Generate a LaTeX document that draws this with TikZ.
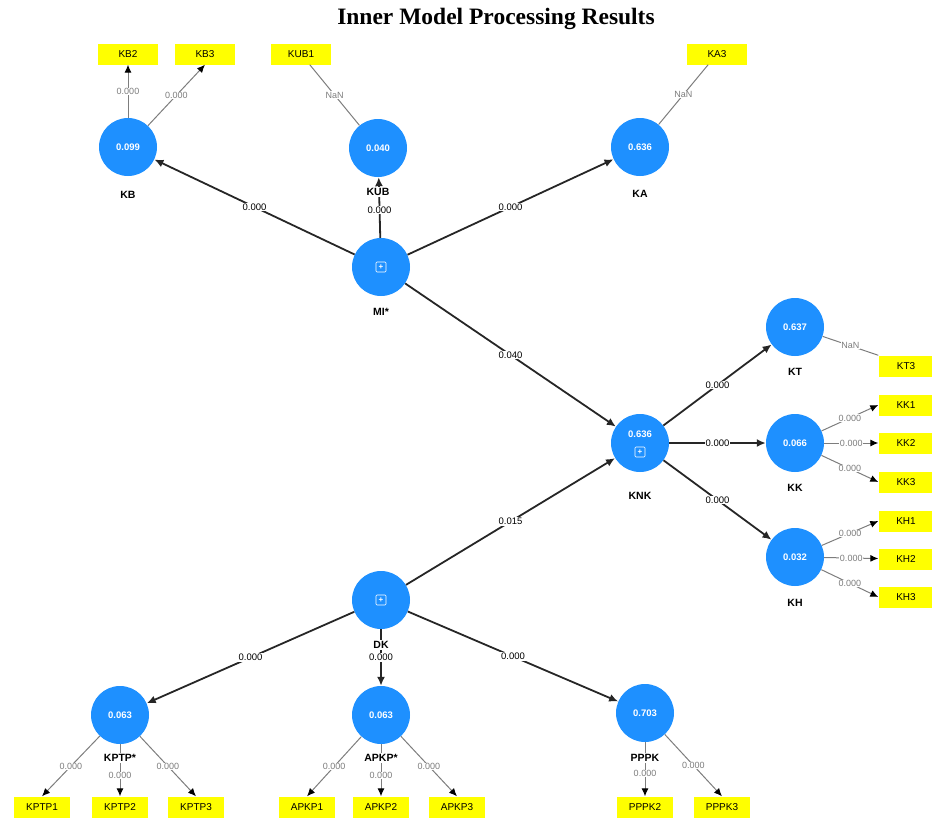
\documentclass[tikz,border=0pt]{standalone}
\usepackage{fontspec}
\setmainfont{Liberation Serif}
\newfontfamily\diagfont{Liberation Sans}
\usetikzlibrary{arrows.meta}
\definecolor{latentblue}{RGB}{30,144,255}
\definecolor{itemyellow}{RGB}{255,255,0}
\definecolor{loadgray}{RGB}{125,125,125}

\begin{document}
\begin{tikzpicture}[x=1pt,y=-1pt,
    latent/.style={circle,fill=latentblue,minimum size=58pt,inner sep=0pt,
      text=white,font=\diagfont\fontsize{9.5}{11}\selectfont\bfseries},
    item/.style={rectangle,fill=itemyellow,minimum width=60pt,minimum height=21pt,
      inner sep=0pt,font=\diagfont\fontsize{10}{12}\selectfont},
    namelbl/.style={fill=white,inner sep=1pt,font=\diagfont\fontsize{10.5}{12}\selectfont\bfseries},
    pathlbl/.style={fill=white,inner sep=1pt,font=\diagfont\fontsize{9.5}{11}\selectfont},
    loadlbl/.style={fill=white,inner sep=0.5pt,text=loadgray,font=\diagfont\fontsize{9}{10}\selectfont},
    pathline/.style={draw=black!85,line width=1.8pt,-{Latex[length=9pt,width=8pt]}},
    loadline/.style={draw=loadgray,line width=1pt,-{Latex[length=8pt,width=7pt,color=black]}},
    nanline/.style={draw=loadgray,line width=1pt},
    plusicon/.style={draw=white,line width=0.6pt,rounded corners=1pt,minimum size=10pt,
      inner sep=0pt,text=white,font=\diagfont\fontsize{8}{8}\selectfont\bfseries}]
  \useasboundingbox (0,0) rectangle (932,820);
  \node[font=\fontsize{23.5}{27}\selectfont\bfseries] (title) at (496,19) {Inner Model Processing Results};

  % constructs
  \node[latent] (kb) at (128,147) {0.099};
  \node[latent] (kub) at (378,148) {0.040};
  \node[latent] (ka) at (640,147) {0.636};
  \node[latent] (mi) at (381,267) {};
  \node[plusicon] at (mi) {+};
  \node[latent] (knk) at (640,443) {};
  \node[text=white,font=\diagfont\fontsize{9.5}{11}\selectfont\bfseries] at (640,434) {0.636};
  \node[plusicon] at (640,452) {+};
  \node[latent] (kt) at (795,327) {0.637};
  \node[latent] (kk) at (795,443) {0.066};
  \node[latent] (kh) at (795,557) {0.032};
  \node[latent] (dk) at (381,600) {};
  \node[plusicon] at (dk) {+};
  \node[latent] (kptp) at (120,715) {0.063};
  \node[latent] (apkp) at (381,715) {0.063};
  \node[latent] (pppk) at (645,713) {0.703};

  % indicators
  \node[item] (kb2) at (128,54) {KB2};
  \node[item] (kb3) at (205,54) {KB3};
  \node[item] (kub1) at (301,54) {KUB1};
  \node[item] (ka3) at (717,54) {KA3};
  \node[item,minimum width=55pt] (kt3) at (906,366) {KT3};
  \node[item,minimum width=55pt] (kk1) at (906,405) {KK1};
  \node[item,minimum width=55pt] (kk2) at (906,443) {KK2};
  \node[item,minimum width=55pt] (kk3) at (906,482) {KK3};
  \node[item,minimum width=55pt] (kh1) at (906,521) {KH1};
  \node[item,minimum width=55pt] (kh2) at (906,559) {KH2};
  \node[item,minimum width=55pt] (kh3) at (906,597) {KH3};
  \node[item,minimum width=56pt] (kptp1) at (42,807) {KPTP1};
  \node[item,minimum width=56pt] (kptp2) at (120,807) {KPTP2};
  \node[item,minimum width=56pt] (kptp3) at (196,807) {KPTP3};
  \node[item,minimum width=56pt] (apkp1) at (307,807) {APKP1};
  \node[item,minimum width=56pt] (apkp2) at (381,807) {APKP2};
  \node[item,minimum width=56pt] (apkp3) at (457,807) {APKP3};
  \node[item,minimum width=56pt] (pppk2) at (645,807) {PPPK2};
  \node[item,minimum width=56pt] (pppk3) at (722,807) {PPPK3};

  % inner model
  \draw[pathline] (mi) -- node[pathlbl] {0.000} (kb);
  \draw[pathline] (mi) -- node[pathlbl,pos=0.46] {0.000} (kub);
  \draw[pathline] (mi) -- node[pathlbl] {0.000} (ka);
  \draw[pathline] (mi) -- node[pathlbl] {0.040} (knk);
  \draw[pathline] (dk) -- node[pathlbl] {0.015} (knk);
  \draw[pathline] (knk) -- node[pathlbl] {0.000} (kt);
  \draw[pathline] (knk) -- node[pathlbl] {0.000} (kk);
  \draw[pathline] (knk) -- node[pathlbl] {0.000} (kh);
  \draw[pathline] (dk) -- node[pathlbl] {0.000} (kptp);
  \draw[pathline] (dk) -- node[pathlbl,pos=0.5] {0.000} (apkp);
  \draw[pathline] (dk) -- node[pathlbl] {0.000} (pppk);

  % outer model
  \draw[loadline] (kb) -- node[loadlbl] {0.000} (kb2);
  \draw[loadline] (kb) -- node[loadlbl] {0.000} (kb3.south);
  \draw[nanline] (kub) -- node[loadlbl] {NaN} (kub1);
  \draw[nanline] (ka) -- node[loadlbl] {NaN} (ka3);
  \draw[nanline] (kt) -- node[loadlbl] {NaN} (kt3.north west);
  \draw[loadline] (kk) -- node[loadlbl] {0.000} (kk1.west);
  \draw[loadline] (kk) -- node[loadlbl] {0.000} (kk2);
  \draw[loadline] (kk) -- node[loadlbl] {0.000} (kk3.west);
  \draw[loadline] (kh) -- node[loadlbl] {0.000} (kh1.west);
  \draw[loadline] (kh) -- node[loadlbl] {0.000} (kh2);
  \draw[loadline] (kh) -- node[loadlbl] {0.000} (kh3.west);
  \draw[loadline] (kptp) -- node[loadlbl] {0.000} (kptp1.north);
  \draw[loadline] (kptp) -- node[loadlbl,pos=0.6] {0.000} (kptp2);
  \draw[loadline] (kptp) -- node[loadlbl] {0.000} (kptp3.north);
  \draw[loadline] (apkp) -- node[loadlbl] {0.000} (apkp1.north);
  \draw[loadline] (apkp) -- node[loadlbl,pos=0.6] {0.000} (apkp2);
  \draw[loadline] (apkp) -- node[loadlbl] {0.000} (apkp3.north);
  \draw[loadline] (pppk) -- node[loadlbl,pos=0.58] {0.000} (pppk2);
  \draw[loadline] (pppk) -- node[loadlbl] {0.000} (pppk3.north);

  % construct names
  \node[namelbl] (kbname) at (128,195) {KB};
  \node[namelbl] (kubname) at (378,192) {KUB};
  \node[namelbl] (kaname) at (640,194) {KA};
  \node[namelbl] (miname) at (381,312) {MI*};
  \node[namelbl] (knkname) at (640,496) {KNK};
  \node[namelbl] (ktname) at (795,372) {KT};
  \node[namelbl] (kkname) at (795,488) {KK};
  \node[namelbl] (khname) at (795,603) {KH};
  \node[namelbl] (dkname) at (381,645) {DK};
  \node[namelbl] (kptpname) at (120,758) {KPTP*};
  \node[namelbl] (apkpname) at (381,758) {APKP*};
  \node[namelbl] (pppkname) at (645,758) {PPPK};
\end{tikzpicture}
\end{document}
